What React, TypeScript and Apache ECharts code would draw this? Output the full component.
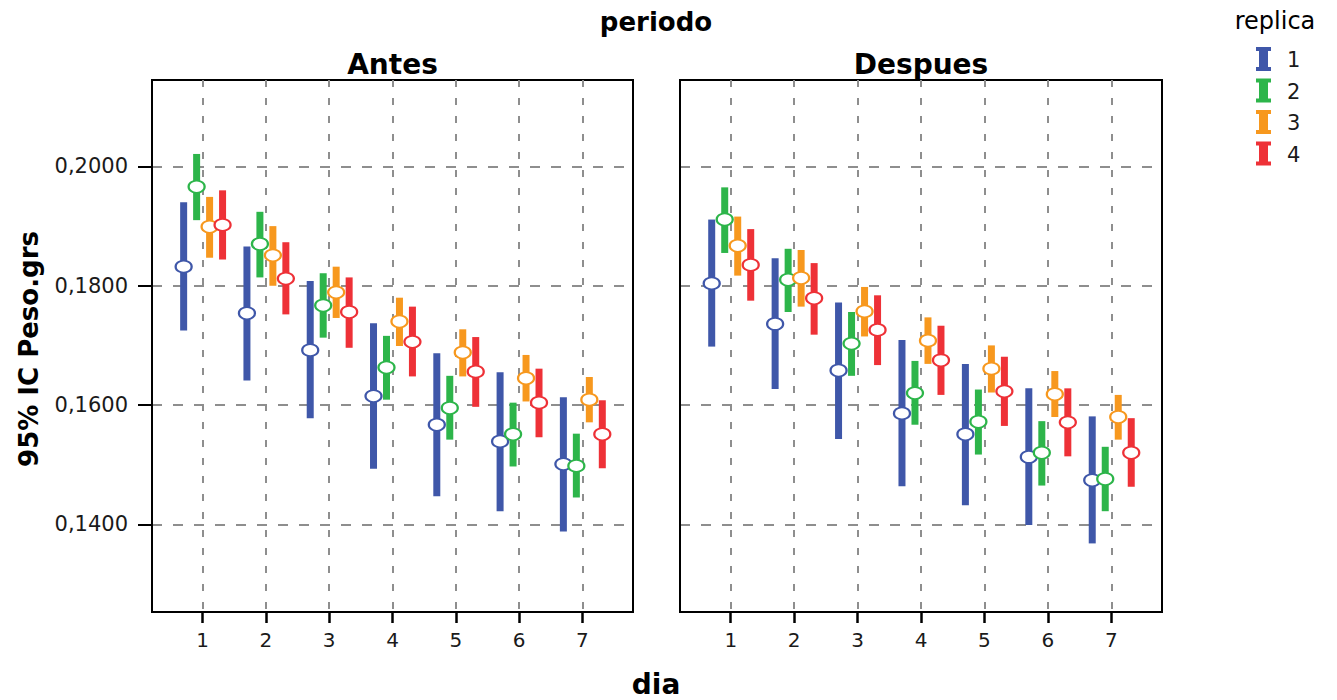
import React, { useEffect, useRef } from 'react';
import * as echarts from 'echarts';

const days = [1, 2, 3, 4, 5, 6, 7];
const replicas = ['1', '2', '3', '4'];
const panels = ['Antes', 'Despues'];
const yTicks = [0.14, 0.16, 0.18, 0.2];
const colors = ['#3F57A9', '#2DB54A', '#F7981E', '#EE3137'];
const offsets = [-0.3, -0.095, 0.11, 0.315];

// Antes: per replica (1..4), per day (1..7)
const antesMean = [
  [0.1832, 0.1754, 0.1692, 0.1615, 0.1567, 0.1539, 0.1501],
  [0.1966, 0.187, 0.1767, 0.1663, 0.1595, 0.1551, 0.1498],
  [0.1899, 0.1851, 0.1789, 0.174, 0.1688, 0.1645, 0.1609],
  [0.1902, 0.1812, 0.1756, 0.1706, 0.1656, 0.1604, 0.1551],
];
const antesLow = [
  [0.1725, 0.1641, 0.1578, 0.1493, 0.1447, 0.1422, 0.1388],
  [0.191, 0.1814, 0.1713, 0.1609, 0.1542, 0.1497, 0.1445],
  [0.1847, 0.18, 0.1746, 0.1699, 0.1648, 0.1606, 0.1571],
  [0.1844, 0.1752, 0.1696, 0.1648, 0.1597, 0.1546, 0.1494],
];
const antesHigh = [
  [0.194, 0.1866, 0.1808, 0.1737, 0.1687, 0.1655, 0.1613],
  [0.2021, 0.1924, 0.1821, 0.1716, 0.1649, 0.1604, 0.1552],
  [0.1949, 0.19, 0.1832, 0.178, 0.1727, 0.1684, 0.1647],
  [0.196, 0.1873, 0.1814, 0.1765, 0.1714, 0.1661, 0.1608],
];

// Despues
const despuesMean = [
  [0.1804, 0.1736, 0.1658, 0.1586, 0.1551, 0.1513, 0.1474],
  [0.1911, 0.181, 0.1703, 0.162, 0.1572, 0.152, 0.1476],
  [0.1867, 0.1813, 0.1757, 0.1708, 0.1661, 0.1618, 0.158],
  [0.1835, 0.1779, 0.1726, 0.1675, 0.1623, 0.1571, 0.152],
];
const despuesLow = [
  [0.1698, 0.1627, 0.1543, 0.1464, 0.1432, 0.1399, 0.1368],
  [0.1855, 0.1756, 0.1649, 0.1567, 0.1517, 0.1465, 0.1422],
  [0.1817, 0.1765, 0.1715, 0.1669, 0.1621, 0.158, 0.1542],
  [0.1775, 0.1718, 0.1667, 0.1617, 0.1565, 0.1514, 0.1463],
];
const despuesHigh = [
  [0.1911, 0.1846, 0.1772, 0.1709, 0.1669, 0.1628, 0.1581],
  [0.1965, 0.1862, 0.1756, 0.1674, 0.1626, 0.1573, 0.153],
  [0.1916, 0.186, 0.1798, 0.1747, 0.17, 0.1657, 0.1617],
  [0.1895, 0.1838, 0.1784, 0.1733, 0.1681, 0.1628, 0.1578],
];

const FONT = 'DejaVu Sans';

export default function App() {
  const ref = useRef<HTMLDivElement>(null);

  useEffect(() => {
    if (!ref.current) return;
    const chart = echarts.init(ref.current, null, { renderer: 'svg' });

    const grids = [
      { left: 152, top: 80, width: 481, height: 532 },
      { left: 680, top: 80, width: 482, height: 532 },
    ];

    const panelData = [
      { mean: antesMean, low: antesLow, high: antesHigh },
      { mean: despuesMean, low: despuesLow, high: despuesHigh },
    ];

    const series: any[] = [];
    panelData.forEach((pd, p) => {
      replicas.forEach((name, r) => {
        const col = colors[r];
        series.push({
          type: 'custom',
          name,
          xAxisIndex: p,
          yAxisIndex: p,
          z: 2,
          silent: true,
          encode: { x: 0, y: [1, 2] },
          data: days.map((d, i) => [d + offsets[r], pd.low[r][i], pd.high[r][i]]),
          itemStyle: { color: col },
          renderItem: (params: any, api: any) => {
            const x = api.value(0);
            const lo = api.value(1);
            const hi = api.value(2);
            const top = api.coord([x, hi]);
            const bot = api.coord([x, lo]);
            return {
              type: 'rect',
              shape: { x: top[0] - 3.5, y: top[1], width: 7, height: bot[1] - top[1] },
              style: { fill: col },
            };
          },
        });
        series.push({
          type: 'scatter',
          name,
          xAxisIndex: p,
          yAxisIndex: p,
          z: 3,
          silent: true,
          symbol: 'circle',
          symbolSize: [16, 12],
          itemStyle: { color: '#ffffff', borderColor: col, borderWidth: 2, opacity: 1 },
          data: days.map((d, i) => [d + offsets[r], pd.mean[r][i]]),
        });
      });
    });

    const xAxes = grids.map((_, p) => ({
      type: 'value',
      gridIndex: p,
      min: 0.2,
      max: 7.8,
      axisLine: { show: true, lineStyle: { color: '#000', width: 2 } },
      axisTick: {
        show: true,
        customValues: days,
        length: 11,
        lineStyle: { color: '#000', width: 2.5 },
      },
      axisLabel: {
        show: true,
        customValues: days,
        margin: 18,
        fontFamily: FONT,
        fontSize: 20,
        color: '#1a1a1a',
        formatter: (v: number) => String(Math.round(v)),
      },
      splitLine: {
        show: true,
        lineStyle: { color: '#8e8e8e', width: 2, type: [7, 11] },
      },
    }));

    const yAxes = grids.map((_, p) => ({
      type: 'value',
      gridIndex: p,
      min: 0.1253,
      max: 0.2145,
      axisLine: { show: true, lineStyle: { color: '#000', width: 2 } },
      axisTick: {
        show: p === 0,
        customValues: yTicks,
        length: 14,
        lineStyle: { color: '#000', width: 2 },
      },
      axisLabel: {
        show: p === 0,
        customValues: yTicks,
        margin: 24,
        fontFamily: FONT,
        fontSize: 21,
        color: '#1a1a1a',
        formatter: (v: number) => v.toFixed(4).replace('.', ','),
      },
      splitLine: {
        show: true,
        lineStyle: { color: '#8e8e8e', width: 2, type: [10, 11] },
      },
    }));

    // legend drawn as graphic: "I"-shaped error-bar icons + labels
    const legendGraphics: any[] = [];
    replicas.forEach((name, r) => {
      const cy = 59 + r * 31.5;
      const x0 = 1256;
      const y0 = cy - 12;
      legendGraphics.push({
        type: 'polygon',
        shape: {
          points: [
            [x0, y0], [x0 + 15, y0], [x0 + 15, y0 + 4], [x0 + 12, y0 + 4],
            [x0 + 12, y0 + 20], [x0 + 15, y0 + 20], [x0 + 15, y0 + 24], [x0, y0 + 24],
            [x0, y0 + 20], [x0 + 3, y0 + 20], [x0 + 3, y0 + 4], [x0, y0 + 4],
          ],
        },
        style: { fill: colors[r] },
      });
      legendGraphics.push({
        type: 'text',
        x: 1287,
        y: cy + 1,
        style: {
          text: name,
          font: `21px "${FONT}"`,
          fill: '#1a1a1a',
          textAlign: 'left',
          textVerticalAlign: 'middle',
        },
      });
    });

    chart.setOption({
      animation: false,
      backgroundColor: '#ffffff',
      grid: grids.map((g) => ({
        ...g,
        show: true,
        borderColor: '#000',
        borderWidth: 2,
        backgroundColor: 'transparent',
      })),
      xAxis: xAxes,
      yAxis: yAxes,
      graphic: [
        {
          type: 'text',
          x: 656,
          y: 22,
          style: {
            text: 'periodo',
            font: `bold 26px "${FONT}"`,
            fill: '#000',
            textAlign: 'center',
            textVerticalAlign: 'middle',
          },
        },
        ...panels.map((t, p) => ({
          type: 'text',
          x: grids[p].left + grids[p].width / 2,
          y: 64,
          style: {
            text: t,
            font: `bold 28px "${FONT}"`,
            fill: '#000',
            textAlign: 'center',
            textVerticalAlign: 'middle',
          },
        })),
        {
          type: 'text',
          x: 656,
          y: 684,
          style: {
            text: 'dia',
            font: `bold 28px "${FONT}"`,
            fill: '#000',
            textAlign: 'center',
            textVerticalAlign: 'middle',
          },
        },
        {
          type: 'text',
          x: 29,
          y: 349,
          rotation: Math.PI / 2,
          style: {
            text: '95% IC Peso.grs',
            font: `bold 26px "${FONT}"`,
            fill: '#000',
            textAlign: 'center',
            textVerticalAlign: 'middle',
          },
        },
        {
          type: 'text',
          x: 1275,
          y: 21,
          style: {
            text: 'replica',
            font: `24px "${FONT}"`,
            fill: '#000',
            textAlign: 'center',
            textVerticalAlign: 'middle',
          },
        },
        ...legendGraphics,
      ],
      series,
    });

    return () => chart.dispose();
  }, []);

  return (
    <div
      ref={ref}
      style={{ position: 'fixed', left: 0, top: 0, width: 1337, height: 700, background: '#fff' }}
    />
  );
}
